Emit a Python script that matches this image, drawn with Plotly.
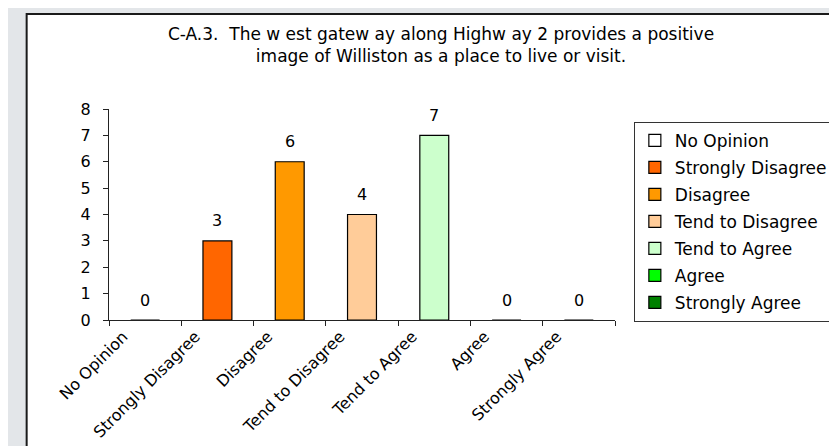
import plotly.graph_objects as go

categories = ["No Opinion", "Strongly Disagree", "Disagree", "Tend to Disagree",
              "Tend to Agree", "Agree", "Strongly Agree"]
counts = [0, 3, 6, 4, 7, 0, 0]
colors = ["#FFFFFF", "#FF6600", "#FF9900", "#FFCC99", "#CCFFCC", "#00FF00", "#008000"]
title_text = ("C-A.3.  The w est gatew ay along Highw ay 2 provides a positive"
              "<br>image of Williston as a place to live or visit.")
y_ticks = list(range(0, 9))

FONT = "DejaVu Sans"
W, H = 837, 446
ML, MR, MT, MB = 101, 226, 101, 130
pw = W - ML - MR
ph = H - MT - MB


def px_to_paper_x(px):
    return (px - ML) / pw


def px_to_paper_y(py):
    return (H - MB - py) / ph


fig = go.Figure()
for i, (cat, val, col) in enumerate(zip(categories, counts, colors)):
    fig.add_trace(go.Bar(
        x=[cat], y=[val], name=cat,
        marker=dict(color=col, line=dict(color="#000000", width=1.2)),
        legendgroup=f"g{i}",
        hoverinfo="x+y",
    ))

annotations = []
for cat, val in zip(categories, counts):
    annotations.append(dict(
        x=cat, y=val, xref="x", yref="y", text=str(val), showarrow=False,
        yanchor="middle", yshift=20,
        font=dict(family=FONT, size=16, color="#000000"),
    ))

shapes = [dict(
    type="rect", xref="paper", yref="paper",
    x0=px_to_paper_x(18), x1=px_to_paper_x(950),
    y0=px_to_paper_y(600), y1=px_to_paper_y(4.3),
    fillcolor="#FFFFFF", line=dict(color="#1a1a1a", width=2), layer="below",
)]

fig.update_layout(
    width=W, height=H,
    margin=dict(l=ML, r=MR, t=MT, b=MB, pad=0),
    paper_bgcolor="#E3E6E9",
    plot_bgcolor="#FFFFFF",
    barmode="overlay",
    bargap=0.6,
    font=dict(family=FONT, size=16, color="#000000"),
    title=dict(
        text=title_text, x=433 / W, xanchor="center", xref="container",
        y=1 - 31.5 / H, yanchor="top", yref="container",
        font=dict(family=FONT, size=17, color="#000000"),
    ),
    xaxis=dict(
        categoryorder="array", categoryarray=categories,
        range=[-0.5, len(categories) - 0.5],
        showline=True, linecolor="#222222", linewidth=1,
        ticks="outside", tickson="boundaries", ticklen=5, tickcolor="#222222",
        tickangle=-45, ticklabelshift=-22,
        tickfont=dict(family=FONT, size=16, color="#000000"),
        showgrid=False, zeroline=False, fixedrange=True,
    ),
    yaxis=dict(
        range=[0, 8], tickvals=y_ticks,
        showline=True, linecolor="#222222", linewidth=1,
        ticks="outside", ticklen=5, tickcolor="#222222",
        ticklabelstandoff=9,
        tickfont=dict(family=FONT, size=16, color="#000000"),
        showgrid=False, zeroline=False, fixedrange=True,
    ),
    legend=dict(
        x=px_to_paper_x(630), xanchor="left",
        y=px_to_paper_y(114), yanchor="top",
        bgcolor="#FFFFFF", bordercolor="#333333", borderwidth=1,
        font=dict(family=FONT, size=17, color="#000000"),
        tracegroupgap=1.9, traceorder="grouped",
    ),
    annotations=annotations,
    shapes=shapes,
    showlegend=True,
)

fig.write_html("out.html")
